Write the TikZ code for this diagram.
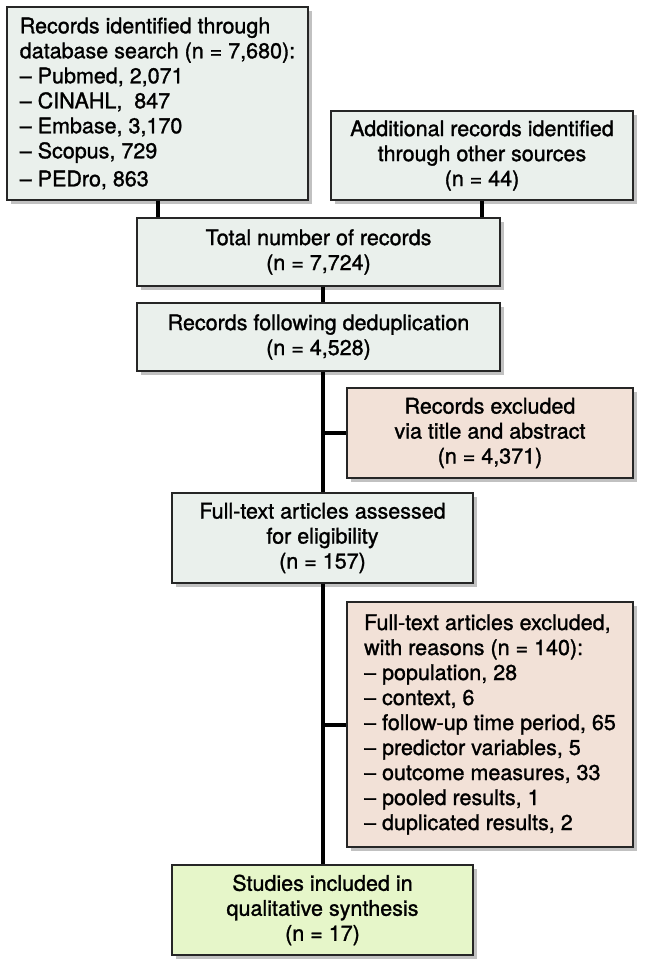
\documentclass[tikz,border=0pt]{standalone}
\usepackage{fontspec}
\setmainfont{TeX Gyre Heros}[FakeBold=1.3]
\usetikzlibrary{shadows}
\definecolor{boxfill}{HTML}{EAF0EC}
\definecolor{exfill}{HTML}{F2E1D7}
\definecolor{finfill}{HTML}{E6F6C9}
\tikzset{
  px/.style={x=1pt,y=-1pt},
  box/.style={draw=black!85, line width=1.2pt, fill=boxfill, inner sep=0pt,
    font=\fontsize{21.5}{25}\selectfont, align=center,
    drop shadow={shadow xshift=4pt, shadow yshift=-4pt, opacity=0.35, fill=black!70}},
  exbox/.style={box, fill=exfill},
  finbox/.style={box, fill=finfill},
  conn/.style={line width=4pt, black}
}
\begin{document}
\begin{tikzpicture}[px]
\useasboundingbox (0,0) rectangle (653,975);
\node[box, minimum width=301pt, minimum height=193pt, align=left] (db) at (157.5,103.5)
  {Records identified through\\database search (n = 7,680):\\– Pubmed, 2,071\\– CINAHL,\ \ 847\\– Embase, 3,170\\– Scopus, 729\\[3pt]– PEDro, 863};
\node[box, minimum width=302pt, minimum height=89pt] (add) at (482,155.5)
  {Additional records identified\\through other sources\\(n = 44)};
\node[box, minimum width=363pt, minimum height=68pt] (tot) at (318.5,252)
  {Total number of records\\(n = 7,724)};
\node[box, minimum width=363pt, minimum height=68pt] (dedup) at (318.5,337)
  {Records following deduplication\\(n = 4,528)};
\node[exbox, minimum width=286pt, minimum height=90pt] (ex1) at (490,433)
  {Records excluded\\via title and abstract\\(n = 4,371)};
\node[box, minimum width=301pt, minimum height=90pt] (full) at (322.5,538)
  {Full-text articles assessed\\for eligibility\\(n = 157)};
\node[exbox, minimum width=286pt, minimum height=245pt, align=left] (ex2) at (490,724.5)
  {Full-text articles excluded,\\with reasons (n = 140):\\– population, 28\\– context, 6\\– follow-up time period, 65\\– predictor variables, 5\\– outcome measures, 33\\– pooled results, 1\\– duplicated results, 2};
\node[finbox, minimum width=301pt, minimum height=90pt] (fin) at (322.5,910)
  {Studies included in\\qualitative synthesis\\(n = 17)};
\draw[conn] (db.south) -- (db.south |- tot.north);
\draw[conn] (add.south) -- (add.south |- tot.north);
\draw[conn] (tot.south -| full.north) -- (dedup.north -| full.north);
\draw[conn] (dedup.south -| full.north) -- (full.north);
\draw[conn] (ex1.west -| full.north) -- (ex1.west);
\draw[conn] (full.south) -- (fin.north);
\draw[conn] (ex2.west -| full.south) -- (ex2.west);
\end{tikzpicture}
\end{document}
